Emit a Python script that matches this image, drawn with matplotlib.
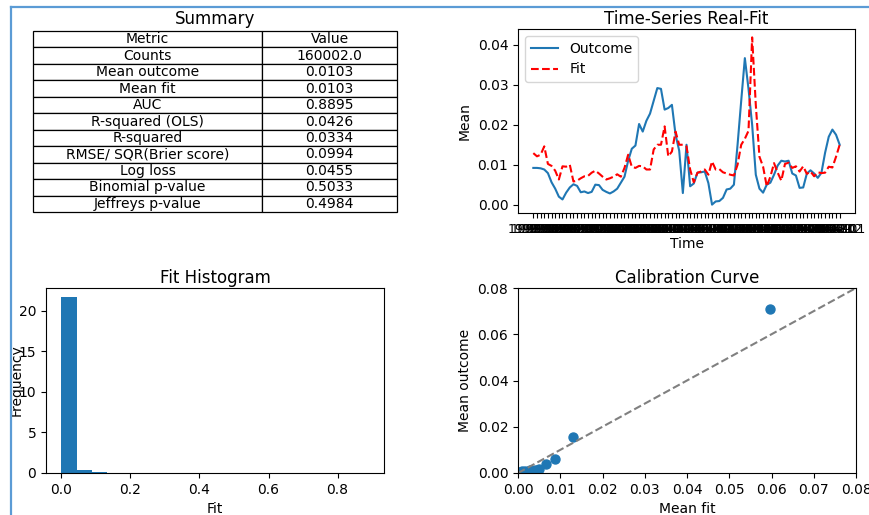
import numpy as np
import pandas as pd
import matplotlib
matplotlib.use("Agg")
import matplotlib.pyplot as plt
from matplotlib.lines import Line2D

# ------------------------------
# data
# ------------------------------
metrics = ["Counts", "Mean outcome", "Mean fit", "AUC", "R-squared (OLS)",
           "R-squared", "RMSE/ SQR(Brier score)", "Log loss",
           "Binomial p-value", "Jeffreys p-value"]
metric_values = ["160002.0", "0.0103", "0.0103", "0.8895", "0.0426",
                 "0.0334", "0.0994", "0.0455", "0.5033", "0.4984"]

outcome = [0.0092, 0.0092, 0.0091, 0.0088, 0.0079, 0.0056, 0.0040, 0.0020, 0.0013, 0.0030,
           0.0043, 0.0051, 0.0047, 0.0031, 0.0033, 0.0029, 0.0032, 0.0050, 0.0049, 0.0037,
           0.0032, 0.0028, 0.0033, 0.0040, 0.0055, 0.0070, 0.0110, 0.0140, 0.0148, 0.0202,
           0.0183, 0.0210, 0.0228, 0.0260, 0.0292, 0.0290, 0.0238, 0.0242, 0.0250, 0.0175,
           0.0135, 0.0029, 0.0150, 0.0046, 0.0053, 0.0080, 0.0081, 0.0083, 0.0054, 0.0000,
           0.0008, 0.0009, 0.0017, 0.0038, 0.0040, 0.0050, 0.0150, 0.0260, 0.0367, 0.0290,
           0.0200, 0.0075, 0.0040, 0.0030, 0.0050, 0.0055, 0.0075, 0.0098, 0.0110, 0.0108,
           0.0110, 0.0078, 0.0073, 0.0042, 0.0043, 0.0078, 0.0086, 0.0078, 0.0067, 0.0080,
           0.0130, 0.0170, 0.0188, 0.0175, 0.0150]
fit = [0.0129, 0.0121, 0.0125, 0.0146, 0.0102, 0.0097, 0.0085, 0.0063, 0.0096, 0.0095,
       0.0100, 0.0058, 0.0060, 0.0066, 0.0071, 0.0072, 0.0080, 0.0085, 0.0078, 0.0070,
       0.0063, 0.0066, 0.0070, 0.0076, 0.0070, 0.0092, 0.0125, 0.0095, 0.0092, 0.0097,
       0.0096, 0.0088, 0.0088, 0.0138, 0.0150, 0.0150, 0.0196, 0.0121, 0.0133, 0.0183,
       0.0150, 0.0150, 0.0146, 0.0088, 0.0056, 0.0080, 0.0083, 0.0088, 0.0075, 0.0108,
       0.0088, 0.0089, 0.0081, 0.0078, 0.0075, 0.0073, 0.0100, 0.0150, 0.0165, 0.0185,
       0.0419, 0.0250, 0.0120, 0.0095, 0.0046, 0.0070, 0.0104, 0.0080, 0.0060, 0.0102,
       0.0105, 0.0092, 0.0096, 0.0083, 0.0096, 0.0077, 0.0083, 0.0071, 0.0081, 0.0079,
       0.0080, 0.0095, 0.0093, 0.0120, 0.0150]
time_labels = list(pd.period_range("1998-01", periods=len(outcome), freq="M").astype(str))

hist_edges = np.linspace(0.0, 0.89, 21)
hist_heights = [21.75, 0.40, 0.15, 0.06, 0.03, 0.02, 0.012, 0.008, 0.006, 0.004,
                0.003, 0.002, 0.002, 0.001, 0.001, 0.001, 0.0005, 0.0005, 0.0003, 0.0003]

calib_fit = [0.0004, 0.0009, 0.0017, 0.0029, 0.0041, 0.0049, 0.0067, 0.0088, 0.0130, 0.0597]
calib_outcome = [0.0004, 0.0007, 0.0010, 0.0012, 0.0014, 0.0017, 0.0040, 0.0061, 0.0156, 0.0709]


# ------------------------------
# figure
# ------------------------------
fig = plt.figure(figsize=(8.69, 5.15), dpi=100)
W, H = 869, 515

def px_axes(x0, y0, x1, y1):
    return fig.add_axes([x0 / W, 1 - y1 / H, (x1 - x0) / W, (y1 - y0) / H])

ax_tab = px_axes(46, 29, 384, 213)
ax_ts = px_axes(518, 29, 855, 213)
ax_hist = px_axes(46, 288, 384, 473)
ax_cal = px_axes(518, 288, 856, 473)

# summary table
ax_tab.axis("off")
ax_tab.set_title("Summary", pad=3.5)
tab = ax_tab.table(cellText=[[m, v] for m, v in zip(metrics, metric_values)],
                   colLabels=["Metric", "Value"], cellLoc="center",
                   colWidths=[0.629, 0.371], bbox=[-0.0385, 0.005, 1.077, 0.984])
tab.auto_set_font_size(False)
tab.set_fontsize(10)
for cell in tab.get_celld().values():
    cell.set_linewidth(0.9)

# time series
ax_ts.plot(time_labels, outcome, label="Outcome")
ax_ts.plot(time_labels, fit, "r--", label="Fit")
ax_ts.set_title("Time-Series Real-Fit", pad=3.5)
ax_ts.set_xlabel("Time", labelpad=1)
ax_ts.set_ylabel("Mean")
ax_ts.tick_params(axis="x", labelsize=9)
ax_ts.legend(loc="upper left")

# histogram
ax_hist.hist(hist_edges[:-1], bins=hist_edges, weights=hist_heights)
ax_hist.set_title("Fit Histogram", pad=3.5)
ax_hist.set_xlabel("Fit")
ax_hist.set_ylabel("Frequency")
ax_hist.yaxis.set_label_coords(-0.065, 0.5)

# calibration curve
ax_cal.scatter(calib_fit, calib_outcome, s=42)
ax_cal.plot([0, 0.08], [0, 0.08], ls="--", color="gray")
ax_cal.set_xlim(0, 0.08)
ax_cal.set_ylim(0, 0.08)
ax_cal.set_title("Calibration Curve", pad=3.5)
ax_cal.set_xlabel("Mean fit")
ax_cal.set_ylabel("Mean outcome")

# blue screenshot frame
blue = "#5b9bd5"
fig.add_artist(Line2D([10.5 / W, 10.5 / W], [0, 1 - 6.5 / H], color=blue, lw=1.6, zorder=10))
fig.add_artist(Line2D([10.5 / W, 1], [1 - 6.5 / H, 1 - 6.5 / H], color=blue, lw=1.6, zorder=10))

fig.savefig("out.png", dpi=100)
